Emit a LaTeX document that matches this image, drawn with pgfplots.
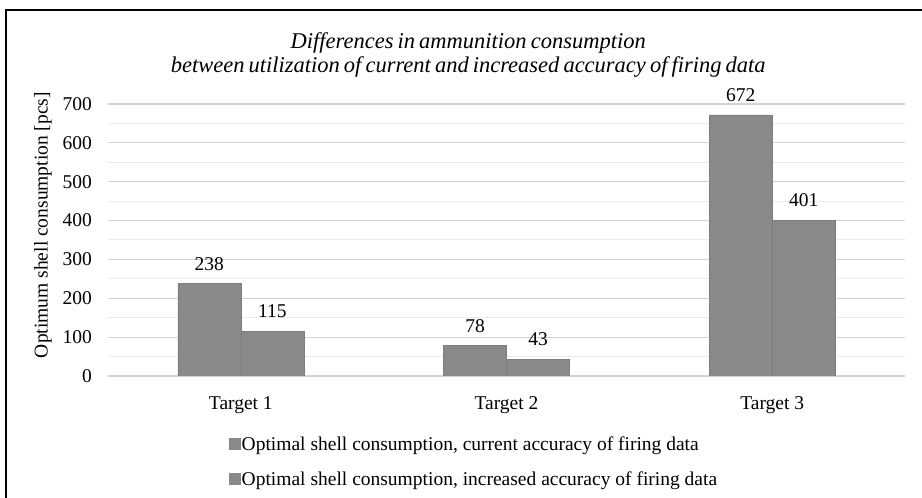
\documentclass[border=0pt]{standalone}
\usepackage{pgfplots}
\pgfplotsset{compat=1.18}
\usepackage{fontspec}
\setmainfont{Liberation Serif}
\definecolor{barc}{HTML}{898989}
\definecolor{bard}{HTML}{7D7D7D}
\definecolor{gridmaj}{HTML}{D3D3D3}
\definecolor{gridmin}{HTML}{EBEBEB}
\newcommand{\fs}{\fontsize{19.5bp}{22bp}\selectfont}
\newcommand{\tfs}{\fontsize{22.5bp}{24bp}\selectfont\itshape\spaceskip=0.18em plus 0.05em\relax}
\begin{document}
\begin{tikzpicture}[x=1bp,y=1bp]
\useasboundingbox (0,0) rectangle (922,498);
\draw[line width=2bp] (6,0) -- (6,488) -- (922,488);
\begin{axis}[
  at={(108bp,122bp)}, anchor=south west,
  scale only axis, width=797bp, height=272bp,
  xmin=-0.5, xmax=2.5, ymin=0, ymax=700,
  enlargelimits=false,
  ybar=0pt, bar width=63bp,
  xtick={0,1,2}, xticklabels={Target 1,Target 2,Target 3},
  ytick={0,100,...,700},
  minor y tick num=1,
  ymajorgrids, yminorgrids,
  major grid style={gridmaj, line width=1.2bp},
  minor grid style={gridmin, line width=1bp},
  axis line style={draw=none},
  major tick length=0pt, minor tick length=0pt,
  tick style={draw=none},
  /pgf/number format/assume math mode=true,
  ticklabel style={font=\fs},
  yticklabel style={inner sep=0pt, xshift=-16bp},
  xticklabel style={inner sep=0pt, yshift=-20bp},
  nodes near coords,
  every node near coord/.append style={font=\fs, inner sep=0pt, yshift=13bp, black},
  ylabel={Optimum shell consumption [pcs]},
  ylabel style={at={(axis description cs:-0.0816,0.555)}, anchor=center, font=\fs},
  title={Differences in ammunition consumption\\between utilization of current and increased accuracy of firing data},
  title style={at={(axis description cs:0.452,1.24)}, anchor=north, inner sep=0pt, align=center, font=\tfs},
  legend style={at={(axis description cs:0.148,-0.21)}, anchor=north west, draw=none, fill=none,
    font=\fs, row sep=18bp, nodes={inner sep=1bp}},
  legend cell align=left,
  legend image code/.code={\fill[barc] (0bp,-5.5bp) rectangle (11bp,5.5bp);},
]
\addplot[fill=barc, draw=bard, line width=0.6bp] coordinates {(0,238) (1,78) (2,672)};
\addlegendentry{Optimal shell consumption, current accuracy of firing data}
\addplot[fill=barc, draw=bard, line width=0.6bp] coordinates {(0,115) (1,43) (2,401)};
\addlegendentry{Optimal shell consumption, increased accuracy of firing data}
\end{axis}
\end{tikzpicture}
\end{document}
